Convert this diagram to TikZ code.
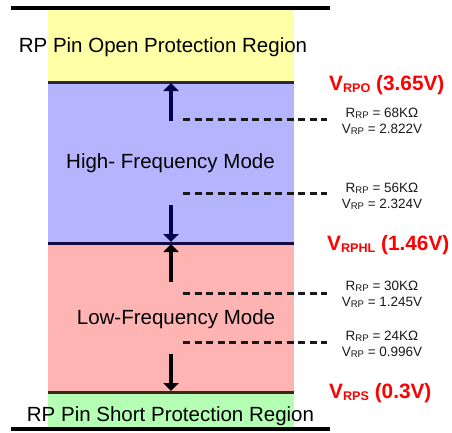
\documentclass[tikz,border=0pt]{standalone}
\usepackage{fontspec}
\setmainfont{Liberation Sans}
\usetikzlibrary{arrows.meta}
\definecolor{yelfill}{RGB}{255,255,168}
\definecolor{blufill}{RGB}{180,180,255}
\definecolor{pnkfill}{RGB}{255,180,180}
\definecolor{grnfill}{RGB}{180,255,180}
\definecolor{lineA}{RGB}{40,40,60}
\definecolor{lineB}{RGB}{20,10,70}
\definecolor{lineC}{RGB}{50,45,20}
\definecolor{navyarrow}{RGB}{0,0,80}
\definecolor{vred}{RGB}{255,0,0}
\newcommand\smsub[1]{\raisebox{-1.7bp}{\fontsize{9.6bp}{10bp}\selectfont #1}}
\newcommand\bgsub[1]{\raisebox{-2.3bp}{\fontsize{12.6bp}{14bp}\selectfont\bfseries #1}}
\tikzset{
  region/.style={inner sep=0pt, font=\fontsize{20.5bp}{24bp}\selectfont, anchor=base},
  vallabel/.style={inner sep=0pt, font=\fontsize{13.5bp}{15bp}\selectfont, anchor=base, text=black!90},
  redlabel/.style={inner sep=0pt, font=\fontsize{20.8bp}{24bp}\selectfont\bfseries, anchor=base west, text=vred},
  rail/.style={line width=3.5bp, black},
  border/.style={line width=3bp},
  modearrow/.style={line width=3.5bp, -{Triangle[width=15bp,length=8bp]}},
  levelline/.style={line width=2.2bp, black!90, dash pattern=on 7bp off 4.5bp}
}
\begin{document}
\begin{tikzpicture}[x=1bp,y=-1bp]
\useasboundingbox (0,0) rectangle (452,432);
% regions
\fill[yelfill] (48,8) rectangle (294,82);
\fill[blufill] (48,82) rectangle (294,243);
\fill[pnkfill] (48,243) rectangle (294,392);
\fill[grnfill] (48,392) rectangle (294,429);
% rails and borders
\coordinate (railTL) at (11,8);  \coordinate (railTR) at (330,8);
\coordinate (railBL) at (11,429); \coordinate (railBR) at (330,429);
\coordinate (bAL) at (48,82);  \coordinate (bAR) at (294,82);
\coordinate (bBL) at (48,243); \coordinate (bBR) at (294,243);
\coordinate (bCL) at (48,392); \coordinate (bCR) at (294,392);
\draw[rail] (railTL) -- (railTR);
\draw[rail] (railBL) -- (railBR);
\draw[border, lineA] (bAL) -- (bAR);
\draw[border, lineB] (bBL) -- (bBR);
\draw[border, lineC] (bCL) -- (bCR);
% region texts
\node[region] (open) at (163,52) {RP Pin Open Protection Region};
\node[region] (high) at (170.5,168) {High- Frequency Mode};
\node[region] (low) at (176,324) {Low-Frequency Mode};
\node[region] (short) at (170.5,421) {RP Pin Short Protection Region};
% arrows
\coordinate (a1s) at (171,121); \coordinate (a1e) at (171,83);
\coordinate (a2s) at (171,205); \coordinate (a2e) at (171,242);
\coordinate (a3s) at (171,282); \coordinate (a3e) at (171,244);
\coordinate (a4s) at (171,354); \coordinate (a4e) at (171,391);
\draw[modearrow, navyarrow] (a1s) -- (a1e);
\draw[modearrow, navyarrow] (a2s) -- (a2e);
\draw[modearrow, black] (a3s) -- (a3e);
\draw[modearrow, black] (a4s) -- (a4e);
% dashed level lines
\coordinate (d1s) at (183,119.5); \coordinate (d1e) at (327,119.5);
\coordinate (d2s) at (183,193.5); \coordinate (d2e) at (327,193.5);
\coordinate (d3s) at (183,293.5); \coordinate (d3e) at (327,293.5);
\coordinate (d4s) at (183,342.5); \coordinate (d4e) at (327,342.5);
\draw[levelline] (d1s) -- (d1e);
\draw[levelline] (d2s) -- (d2e);
\draw[levelline] (d3s) -- (d3e);
\draw[levelline] (d4s) -- (d4e);
% value labels
\node[vallabel] (r1) at (382,117) {R\smsub{RP} = 68KΩ};
\node[vallabel] (v1) at (382,133) {V\smsub{RP} = 2.822V};
\node[vallabel] (r2) at (382,192) {R\smsub{RP} = 56KΩ};
\node[vallabel] (v2) at (382,208) {V\smsub{RP} = 2.324V};
\node[vallabel] (r3) at (382,290) {R\smsub{RP} = 30KΩ};
\node[vallabel] (v3) at (382,306) {V\smsub{RP} = 1.245V};
\node[vallabel] (r4) at (382,340) {R\smsub{RP} = 24KΩ};
\node[vallabel] (v4) at (382,356) {V\smsub{RP} = 0.996V};
% threshold labels
\node[redlabel] (vrpo) at (329,90) {V\bgsub{RPO} (3.65V)};
\node[redlabel] (vrphl) at (327,250) {V\bgsub{RPHL} (1.46V)};
\node[redlabel] (vrps) at (329,398) {V\bgsub{RPS} (0.3V)};
\end{tikzpicture}
\end{document}
